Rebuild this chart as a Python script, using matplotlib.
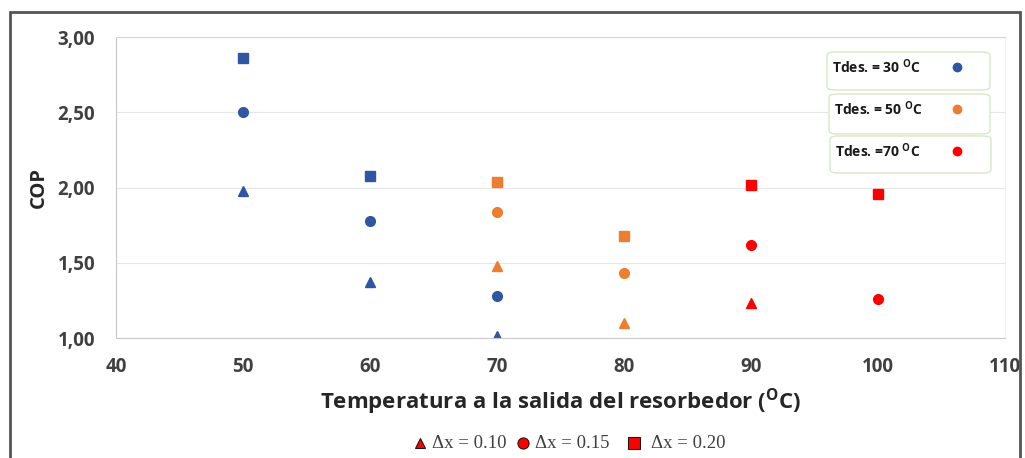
import numpy as np
import matplotlib
matplotlib.use('Agg')
import matplotlib.pyplot as plt
from matplotlib.patches import FancyBboxPatch, Rectangle
from matplotlib.ticker import FuncFormatter

plt.rcParams['font.family'] = ['Open Sans', 'DejaVu Sans']
plt.rcParams['mathtext.fontset'] = 'custom'
plt.rcParams['mathtext.rm'] = 'Open Sans'
plt.rcParams['mathtext.bf'] = 'Open Sans:bold'

# data: COP per desorber temperature, for dx = 0.10 (triangle), 0.15 (circle), 0.20 (square)
t30_x = [50, 60, 70]
t30_dx010 = [1.98, 1.37, 1.01]
t30_dx015 = [2.50, 1.78, 1.28]
t30_dx020 = [2.86, 2.08, None]

t50_x = [70, 80]
t50_dx010 = [1.48, 1.10]
t50_dx015 = [1.84, 1.43]
t50_dx020 = [2.04, 1.68]

t70_x = [90, 100]
t70_dx010 = [1.23, None]
t70_dx015 = [1.62, 1.26]
t70_dx020 = [2.02, 1.96]

groups = ['Tdes. = 30 $^{\\mathbf{O}}$C', 'Tdes. = 50 $^{\\mathbf{O}}$C', 'Tdes. =70 $^{\\mathbf{O}}$C']
colors = ['#2F55A3', '#ED7D31', '#FF0000']
dx_labels = ['\u0394x = 0.10', '\u0394x = 0.15', '\u0394x = 0.20']

series = [(t30_x, t30_dx010, t30_dx015, t30_dx020),
          (t50_x, t50_dx010, t50_dx015, t50_dx020),
          (t70_x, t70_dx010, t70_dx015, t70_dx020)]

fig = plt.figure(figsize=(10.25, 4.58), dpi=100)
ax = fig.add_axes([0.1132, 0.262, 0.8673, 0.657])

for (xs, a, b, c), col in zip(series, colors):
    for vals, mk, ms in [(a, '^', 6.5), (b, 'o', 7), (c, 's', 6.5)]:
        px = [x for x, v in zip(xs, vals) if v is not None]
        py = [v for v in vals if v is not None]
        ax.plot(px, py, linestyle='none', marker=mk, color=col, markersize=ms)

ax.set_xlim(40, 110)
ax.set_ylim(1.0, 3.0)
ax.set_xticks(np.arange(40, 111, 10))
ax.set_yticks(np.arange(1.0, 3.01, 0.5))
ax.yaxis.set_major_formatter(FuncFormatter(lambda v, p: ('%.2f' % v).replace('.', ',')))
ax.tick_params(length=0, labelsize=13.5, colors='#404040')
ax.tick_params(axis='y', pad=15)
ax.tick_params(axis='x', pad=14)
for lab in ax.get_xticklabels() + ax.get_yticklabels():
    lab.set_fontweight('bold')
ax.grid(axis='y', color='#E6E6E6', lw=0.8)
ax.set_axisbelow(True)
ax.spines['left'].set_color('#C8C8C8')
ax.spines['bottom'].set_color('#C8C8C8')
ax.spines['top'].set_color('#C9D7EE')
ax.spines['right'].set_color('#EEF1F8')

ax.set_xlabel('Temperatura a la salida del resorbedor ($^{\\mathbf{O}}$C)', fontsize=16,
              fontweight='bold', color='#262626', labelpad=6)
ax.set_ylabel('COP', fontsize=14.5, fontweight='bold', color='#262626', labelpad=6)

# legend boxes for desorber temperature (figure pixel coords)
W, H = 1025, 458
boxes = [(827, 52, 163, 38), (829, 94, 161, 40), (830, 136, 161, 37)]
for (bx, by, bw, bh), lab, col in zip(boxes, groups, colors):
    p = FancyBboxPatch((bx / W, 1 - (by + bh) / H), bw / W, bh / H,
                       boxstyle='round,pad=0,rounding_size=0.008', transform=fig.transFigure,
                       facecolor='white', edgecolor='#D6E8C8', lw=1.0)
    fig.patches.append(p)
    fig.text((bx + 5) / W, 1 - (by + 15) / H, lab, fontsize=10, fontweight='bold',
             color='#1A1A1A', va='center', ha='left')
    fig.lines.append(plt.Line2D([957 / W], [1 - (by + 15) / H], transform=fig.transFigure,
                                marker='o', color=col, markersize=6, linestyle='none'))

# bottom legend for dx
legend_mk = [('^', 420, 432), ('o', 523, 535), ('s', 634, 651)]
for (mk, mx, tx), lab in zip(legend_mk, dx_labels):
    fig.lines.append(plt.Line2D([mx / W], [1 - 443 / H], transform=fig.transFigure,
                                marker=mk, color='#FF0000', markeredgecolor='#1A1A1A',
                                markeredgewidth=0.8, markersize=8 if mk != '^' else 7,
                                linestyle='none'))
    fig.text(tx / W, 1 - 443 / H, lab, fontsize=13.5, family=['Liberation Serif'],
             color='#404040', va='center', ha='left')

# outer frame
fig.patches.append(Rectangle((10 / W, -0.05), 1010 / W, 1.05 - 12 / H, transform=fig.transFigure,
                             fill=False, edgecolor='#555555', lw=2))

fig.savefig('out.png', dpi=100)
